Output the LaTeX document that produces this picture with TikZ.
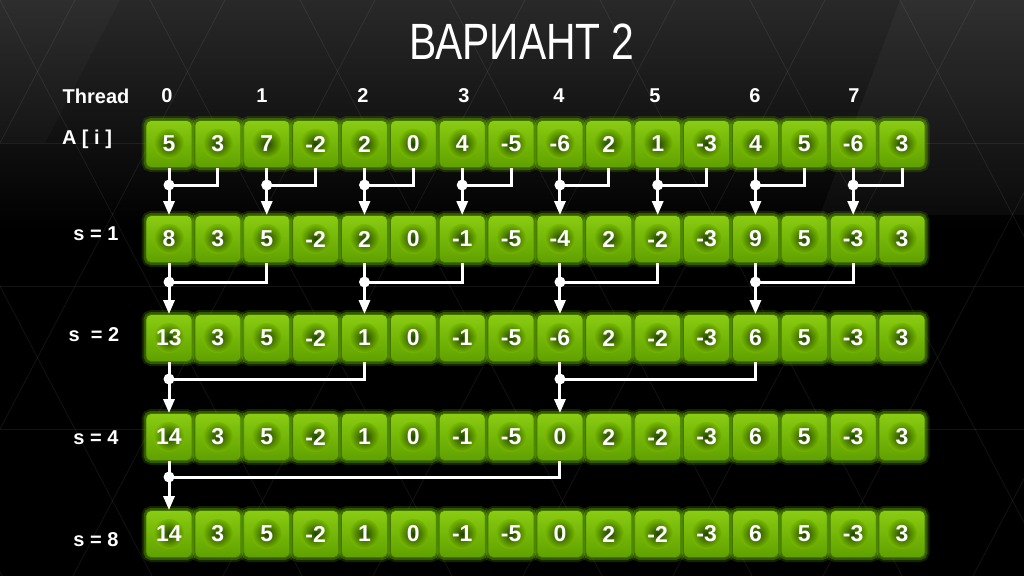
\documentclass[tikz,border=0pt]{standalone}
\usepackage{fontspec}
\setmainfont{Liberation Sans}
\usetikzlibrary{arrows.meta}
\definecolor{cellg}{RGB}{118,185,0}
\definecolor{celltop}{RGB}{138,204,18}
\definecolor{cellbot}{RGB}{96,160,0}
\definecolor{halo}{RGB}{34,66,0}
\definecolor{edgeg}{RGB}{66,118,0}
\definecolor{glowg}{RGB}{110,190,0}
\begin{document}
\begin{tikzpicture}[x=1pt,y=-1pt,
  cellbox/.style={minimum width=46pt, minimum height=47pt, rounded corners=5pt,
    draw=edgeg, line width=0.8pt, inner sep=0pt, text=white,
    font=\bfseries\fontsize{23}{23}\selectfont,
    preaction={draw=glowg, line width=9pt, draw opacity=0.18},
    preaction={draw=glowg, line width=5pt, draw opacity=0.35},
    path picture={
      \shade[top color=celltop, bottom color=cellbot]
        (path picture bounding box.south west) rectangle (path picture bounding box.north east);
      \shade[inner color=halo, outer color=cellg]
        (path picture bounding box.center) circle[radius=15pt];
    }},
  link/.style={draw=white, line width=3pt},
  arrowlink/.style={link, -{Triangle[width=11pt,length=14pt]}},
  lbl/.style={text=white, font=\bfseries\fontsize{20}{20}\selectfont, inner sep=0pt},
  titletext/.style={text=white, font=\fontsize{51}{51}\selectfont, inner sep=0pt},
  gridline/.style={draw=white, draw opacity=0.07, line width=0.8pt}
]
% background
\fill[black] (0,0) rectangle (1024,576);
\shade[top color=black!84, bottom color=black] (0,0) rectangle (1024,230);
\fill[white, fill opacity=0.035] (900,0) -- (1024,0) -- (1024,215) -- (820,215) -- cycle;
\fill[white, fill opacity=0.025] (0,0) -- (120,0) -- (45,143) -- (0,143) -- cycle;
\begin{scope}
  \clip (0,0) rectangle (1024,576);
  \foreach \k in {-4,...,8} {
    \draw[gridline] ({\k*150},0) -- ({\k*150+302},576);
    \draw[gridline] ({\k*150+75},0) -- ({\k*150+75-302},576);
  }
  \foreach \hy in {143,286,429} {
    \draw[gridline] (0,\hy) -- (1024,\hy);
  }
\end{scope}
\useasboundingbox (0,0) rectangle (1024,576);

% title
\node[titletext] (title) at (522,42) {\scalebox{0.8}[1]{ВАРИАНТ 2}};

% labels
\node[lbl] (thread) at (96,96) {Thread};
\foreach \t/\tx in {0/167,1/262,2/363,3/464,4/559,5/655,6/755,7/854} {
  \node[lbl] (t-\t) at (\tx,96) {\t};
}
\node[lbl] (lA) at (87,139) {A [ i ]};
\node[lbl] (l1) at (96,234) {s = 1};
\node[lbl] (l2) at (94,335) {s \ = 2};
\node[lbl] (l4) at (96,438) {s = 4};
\node[lbl] (l8) at (96,540) {s = 8};

% cells
\foreach \r/\yy/\vals in {
  0/144/{5,3,7,-2,2,0,4,-5,-6,2,1,-3,4,5,-6,3},
  1/239/{8,3,5,-2,2,0,-1,-5,-4,2,-2,-3,9,5,-3,3},
  2/338/{13,3,5,-2,1,0,-1,-5,-6,2,-2,-3,6,5,-3,3},
  3/437/{14,3,5,-2,1,0,-1,-5,0,2,-2,-3,6,5,-3,3},
  4/534/{14,3,5,-2,1,0,-1,-5,0,2,-2,-3,6,5,-3,3}} {
  \foreach \v [count=\i from 0] in \vals {
    \node[cellbox] (c-\r-\i) at ({169+48.87*\i},\yy) {\v};
  }
}

% connectors
\foreach \r/\s/\jy in {0/1/185, 1/2/282, 2/4/379, 3/8/477} {
  \pgfmathtruncatemacro\nr{\r+1}
  \pgfmathtruncatemacro\stp{2*\s}
  \pgfmathtruncatemacro\cnt{16/\stp}
  \foreach \k in {1,...,\cnt} {
    \pgfmathtruncatemacro\ii{(\k-1)*\stp}
    \pgfmathtruncatemacro\pj{\ii+\s}
    \coordinate (j-\r-\ii) at (c-\r-\ii |- 0,\jy);
    \draw[link] (c-\r-\pj.south) |- (j-\r-\ii);
    \draw[arrowlink] (c-\r-\ii.south) -- (c-\nr-\ii.north);
    \fill[white] (j-\r-\ii) circle[radius=5.5pt];
  }
}
\end{tikzpicture}
\end{document}
